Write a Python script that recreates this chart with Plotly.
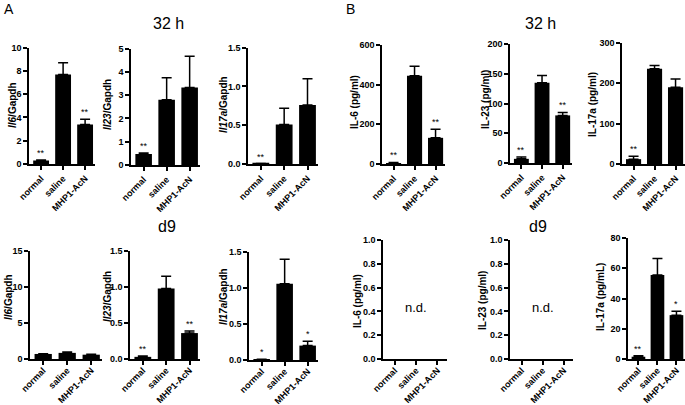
import plotly.graph_objects as go

W, H = 685, 405
FONT = "Liberation Sans, Arial, sans-serif"

categories = ["normal", "saline", "MHP1-AcN"]

# Panel A, 32 h (relative mRNA)
il6_32h = [0.3, 7.7, 3.4]
il6_32h_err = [0.05, 1.0, 0.45]
il6_32h_sig = ["**", "", "**"]

il23_32h = [0.47, 2.8, 3.33]
il23_32h_err = [0.05, 0.95, 1.35]
il23_32h_sig = ["**", "", ""]

il17a_32h = [0.005, 0.51, 0.76]
il17a_32h_err = [0.0, 0.21, 0.34]
il17a_32h_sig = ["**", "", ""]

# Panel B, 32 h (pg/ml)
IL6_32h = [5, 445, 132]
IL6_32h_err = [3, 48, 43]
IL6_32h_sig = ["**", "", "**"]

IL23_32h = [7, 135, 80]
IL23_32h_err = [3, 12, 5]
IL23_32h_sig = ["**", "", "**"]

IL17a_32h = [12, 236, 190]
IL17a_32h_err = [7, 8, 21]
IL17a_32h_sig = ["**", "", ""]

# Panel A, d9
il6_d9 = [0.7, 0.85, 0.6]
il6_d9_err = [0.03, 0.12, 0.05]
il6_d9_sig = ["", "", ""]

il23_d9 = [0.03, 0.98, 0.36]
il23_d9_err = [0.01, 0.17, 0.03]
il23_d9_sig = ["**", "", "**"]

il17a_d9 = [0.01, 1.06, 0.2]
il17a_d9_err = [0.0, 0.34, 0.06]
il17a_d9_sig = ["*", "", "*"]

# Panel B, d9 (IL-6, IL-23 not detected)
IL6_d9 = [0, 0, 0]
IL23_d9 = [0, 0, 0]
IL17a_d9 = [1.5, 55.5, 29]
IL17a_d9_err = [0.7, 11, 2.5]
IL17a_d9_sig = ["**", "", "*"]

panels = [
    # data, err, sig, ytitle, ymax, dtick, fmt, x px (left,right), y px (zero,top), title pos (x,y)
    (il6_32h, il6_32h_err, il6_32h_sig, "<b><i>Il6</i>/Gapdh</b>", 10, 2, "d", (29, 95), (164, 47.7), (12, 105)),
    (il23_32h, il23_32h_err, il23_32h_sig, "<b><i>Il23</i>/Gapdh</b>", 5, 1, "d", (131, 200), (165, 48.7), (107, 105)),
    (il17a_32h, il17a_32h_err, il17a_32h_sig, "<b><i>Il17a</i>/Gapdh</b>", 1.5, 0.5, ".1f", (248, 318), (164, 47.7), (223, 105)),
    (IL6_32h, IL6_32h_err, IL6_32h_sig, "<b>IL-6 (pg/ml)</b>", 600, 200, "d", (382, 445), (164, 45), (355, 102)),
    (IL23_32h, IL23_32h_err, IL23_32h_sig, "<b>IL-23 (pg/ml)</b>", 200, 50, "d", (510, 572), (163, 44), (485, 100)),
    (IL17a_32h, IL17a_32h_err, IL17a_32h_sig, "<b>IL-17a (pg/ml)</b>", 300, 100, "d", (622, 685), (164, 43), (592, 105)),
    (il6_d9, il6_d9_err, il6_d9_sig, "<b><i>Il6</i>/Gapdh</b>", 15, 5, "d", (30, 102), (359, 251), (8, 297)),
    (il23_d9, il23_d9_err, il23_d9_sig, "<b><i>Il23</i>/Gapdh</b>", 1.5, 0.5, ".1f", (130, 200), (359, 251), (107, 297)),
    (il17a_d9, il17a_d9_err, il17a_d9_sig, "<b><i>Il17a</i>/Gapdh</b>", 1.5, 0.5, ".1f", (249, 318), (360, 252), (223, 297)),
    (IL6_d9, None, None, "<b>IL-6 (pg/ml)</b>", 1.0, 0.2, ".1f", (383, 447), (359, 240), (357, 301)),
    (IL23_d9, None, None, "<b>IL-23 (pg/ml)</b>", 1.0, 0.2, ".1f", (510, 573), (359, 240), (482, 301)),
    (IL17a_d9, IL17a_d9_err, IL17a_d9_sig, "<b>IL-17a (pg/mL)</b>", 80, 20, "d", (628, 685), (359, 238), (600, 297)),
]

fig = go.Figure()
annotations = []
layout = {}

for i, (vals, errs, sig, ytitle, ymax, dtick, fmt, xpx, ypx, tpos) in enumerate(panels, start=1):
    xa = "x" if i == 1 else f"x{i}"
    ya = "y" if i == 1 else f"y{i}"
    bar = dict(x=categories, y=vals, marker=dict(color="black", line=dict(width=0)),
               width=0.72, xaxis=xa, yaxis=ya, showlegend=False, hoverinfo="skip",
               cliponaxis=False)
    if errs is not None:
        bar["error_y"] = dict(type="data", array=errs, arrayminus=[0] * len(errs), symmetric=False,
                              color="black", thickness=1.5, width=5)
    fig.add_trace(go.Bar(**bar))

    xdom = [xpx[0] / W, min(xpx[1] / W, 1.0)]
    ydom = [1 - ypx[0] / H, 1 - ypx[1] / H]
    layout["xaxis" if i == 1 else f"xaxis{i}"] = dict(
        domain=xdom, anchor=ya, type="category", range=[-0.55, 2.45], automargin=False,
        showline=True, linecolor="black", linewidth=1.5, ticks="outside", ticklen=4,
        tickwidth=1.5, tickcolor="black", tickangle=-45, showgrid=False, zeroline=False,
        ticklabelstandoff=(-3 if i > 6 else 0),
        tickfont=dict(family=FONT, size=9, color="black", weight="bold"))
    layout["yaxis" if i == 1 else f"yaxis{i}"] = dict(
        domain=ydom, anchor=xa, range=[0, ymax], tick0=0, dtick=dtick, tickformat=fmt,
        automargin=False,
        showline=True, linecolor="black", linewidth=1.5, ticks="outside", ticklen=4,
        tickwidth=1.5, tickcolor="black", showgrid=False, zeroline=False,
        tickfont=dict(family=FONT, size=9, color="black", weight="bold"))

    annotations.append(dict(x=tpos[0] / W, y=1 - tpos[1] / H, xref="paper", yref="paper",
                            text=ytitle, textangle=-90, showarrow=False,
                            font=dict(family=FONT, size=10, color="black"),
                            xanchor="center", yanchor="middle"))
    if sig is not None:
        for c, v, e, s in zip(categories, vals, errs, sig):
            if s:
                annotations.append(dict(x=c, y=v + e, xref=xa, yref=ya, text=s, showarrow=False,
                                        yanchor="bottom", yshift=0,
                                        font=dict(family=FONT, size=9, color="black")))

# n.d. labels
for xa, ya in (("x10", "y10"), ("x11", "y11")):
    annotations.append(dict(x=1, y=0.43, xref=xa, yref=ya, text="n.d.", showarrow=False,
                            font=dict(family=FONT, size=13, color="black")))

# row titles and panel letters
for txt, px, py, sz in (("32 h", 168, 24, 16), ("32 h", 540, 24, 16), ("d9", 167, 226, 16),
                        ("d9", 538, 226, 16), ("A", 9, 9, 14), ("B", 350, 9, 14)):
    annotations.append(dict(x=px / W, y=1 - py / H, xref="paper", yref="paper", text=txt,
                            showarrow=False, xanchor="center", yanchor="middle",
                            font=dict(family=FONT, size=sz, color="black")))

fig.update_layout(width=W, height=H, margin=dict(l=0, r=0, t=0, b=0, autoexpand=False),
                  template="none",
                  paper_bgcolor="white", plot_bgcolor="white", annotations=annotations,
                  bargap=0.28, **layout)

fig.write_html("out.html", config={"displayModeBar": False},
               post_script="document.body.style.margin='0';document.body.style.padding='0';")
